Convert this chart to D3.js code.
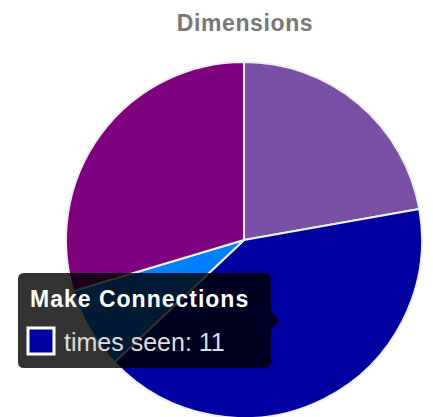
<!DOCTYPE html>
<html>
<head>
<meta charset="utf-8">
<script src="https://cdn.jsdelivr.net/npm/d3@7"></script>
<style>
  html, body { margin: 0; padding: 0; background: #fff; overflow: hidden; }
  svg { display: block; font-family: "Liberation Sans", Arial, sans-serif; }
</style>
</head>
<body>
<svg id="viz"></svg>
<script>
/* Data */

const labels = ["Learn", "Make Connections", "Reflect", "Explore"];
const timesSeen = [6, 11, 2, 8];
const colors = ["#7a50a6", "#0000a0", "#0080ff", "#7f007f"];
const title = "Dimensions";
const hovered = 1;

/* Environment */

const width = 433;
const height = 417;
const cx = 244;
const cy = 240;
const radius = 178;

const svg = d3.select("#viz")
    .attr("width", width)
    .attr("height", height);

/* Title */

svg.append("text")
    .attr("x", 245)
    .attr("y", 31)
    .attr("text-anchor", "middle")
    .attr("font-size", 23)
    .attr("font-weight", "bold")
    .attr("letter-spacing", 0.6)
    .attr("fill", "#777")
    .text(title);

/* Pie */

const pie = d3.pie().sort(null).value(d => d);
const arc = d3.arc().innerRadius(0).outerRadius(radius);

const color = d3.scaleOrdinal().domain(labels).range(colors);

const gPie = svg.append("g")
    .attr("transform", `translate(${cx},${cy})`);

const arcs = pie(timesSeen);

gPie.selectAll("path")
    .data(arcs)
    .enter().append("path")
    .attr("d", arc)
    .attr("fill", (d, i) => color(labels[i]))
    .attr("stroke", "#eee")
    .attr("stroke-width", 2)
    .attr("stroke-linejoin", "round");

/* Tooltip */

const tip = svg.append("g").attr("transform", "translate(18,273)");
const tw = 253, th = 95;

tip.append("path")
    .attr("d", `M6,0 H${tw - 6} Q${tw},0 ${tw},6 V${th / 2 - 9} L${tw + 9},${th / 2} L${tw},${th / 2 + 9} V${th - 6} Q${tw},${th} ${tw - 6},${th} H6 Q0,${th} 0,${th - 6} V6 Q0,0 6,0 Z`)
    .attr("fill", "rgba(0,0,0,0.8)");

tip.append("text")
    .attr("x", 12)
    .attr("y", 34)
    .attr("font-size", 23)
    .attr("font-weight", "bold")
    .attr("letter-spacing", 1)
    .attr("fill", "#fff")
    .text(labels[hovered]);

tip.append("rect")
    .attr("x", 10)
    .attr("y", 55)
    .attr("width", 26)
    .attr("height", 26)
    .attr("fill", color(labels[hovered]))
    .attr("stroke", "#fff")
    .attr("stroke-width", 3);

tip.append("text")
    .attr("x", 46)
    .attr("y", 78)
    .attr("font-size", 25)
    .attr("fill", "#ddd")
    .text(`times seen: ${timesSeen[hovered]}`);
</script>
</body>
</html>
